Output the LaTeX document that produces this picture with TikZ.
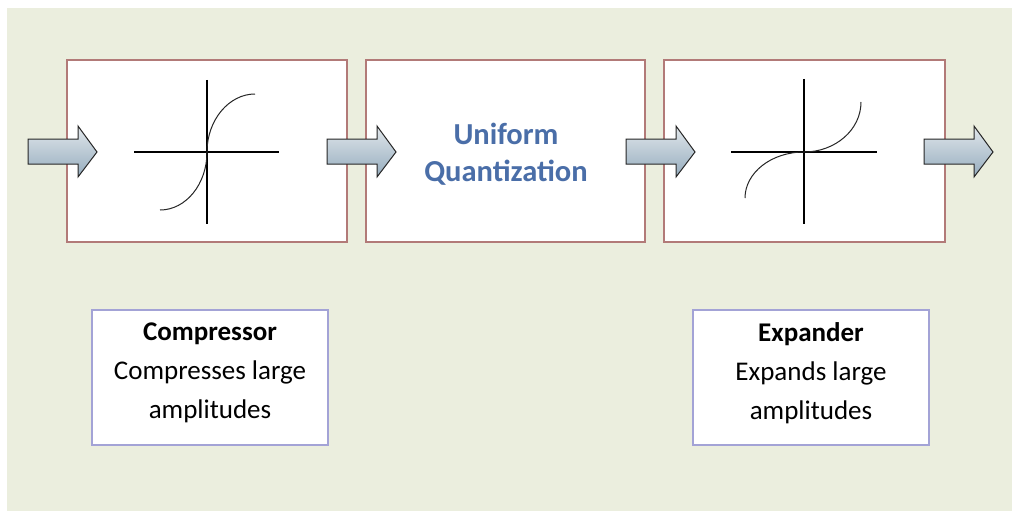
\documentclass[tikz,border=0pt]{standalone}
\usepackage{fontspec}
\setmainfont{Carlito}
\usetikzlibrary{shadings}
\definecolor{bgcol}{HTML}{EBEEDE}
\definecolor{stageedge}{HTML}{B27A78}
\definecolor{noteedge}{HTML}{A3A3D6}
\definecolor{titleblue}{HTML}{4A6EA8}
\definecolor{arrtop}{HTML}{E1E7EB}
\definecolor{arrbot}{HTML}{95ACBE}
\tikzset{
  stage/.style={draw=stageedge, line width=1.3pt, fill=white},
  note/.style={draw=noteedge, line width=1.3pt, fill=white},
  axis/.style={line width=1.2pt, black},
  curve/.style={line width=1pt, black!85},
  blockarrow/.style={draw=black!85, line width=1pt, line join=miter,
    top color=arrtop, bottom color=arrbot},
  notetext/.style={font=\fontsize{27}{39}\selectfont, align=center, text=black},
  titletext/.style={font=\fontsize{30.5}{37}\selectfont\bfseries, align=center, text=titleblue}
}
% block arrow with its tail at x = #1 (shaft 139--164, head 126--177, tip y 152)
\newcommand{\flowarrow}[1]{%
  \path[blockarrow] (#1,139) -- (#1+50,139) -- (#1+50,126) -- (#1+69,152)
    -- (#1+50,177) -- (#1+50,164) -- (#1,164) -- cycle;}
\begin{document}
\begin{tikzpicture}[x=1pt,y=-1pt]
  \useasboundingbox (0,0) rectangle (1012,511);
  \fill[bgcol] (7,8) rectangle (1012,511);

  % the three processing stages
  \draw[stage] (67,60) rectangle (347,242);
  \draw[stage] (366,60) rectangle (645,242);
  \draw[stage] (664,60) rectangle (945,242);

  % compressor characteristic
  \draw[axis] (134,152) -- (279,152);
  \draw[axis] (207,80) -- (207,224);
  \draw[curve] (160,210) .. controls (186,210) and (207,184) .. (207,152)
               .. controls (207,120) and (229,94) .. (255,94);

  % uniform quantizer
  \node[titletext] (uq) at (506,154) {Uniform\\Quantization};

  % expander characteristic
  \draw[axis] (731,152) -- (877,152);
  \draw[axis] (804,79) -- (804,224);
  \draw[curve] (745,198) .. controls (745,173) and (771,152) .. (804,152)
               .. controls (835,152) and (861,130) .. (861,102);

  % signal flow arrows
  \flowarrow{28}
  \flowarrow{327}
  \flowarrow{626}
  \flowarrow{924}

  % explanatory notes
  \draw[note] (92,310) rectangle (328,445);
  \node[notetext] (cmp) at (210,373) {\textbf{Compressor}\\Compresses large\\amplitudes};
  \draw[note] (693,310) rectangle (929,445);
  \node[notetext] (exp) at (811,373) {\textbf{Expander}\\Expands large\\amplitudes};
\end{tikzpicture}
\end{document}
